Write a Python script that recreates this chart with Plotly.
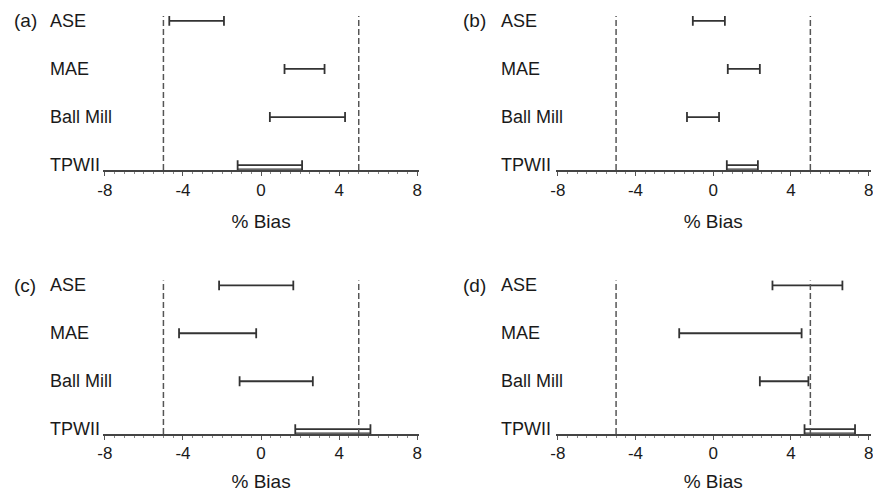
import plotly.graph_objects as go

# ---- data ----
categories = ["ASE", "MAE", "Ball Mill", "TPWII"]
cat_pos = [3, 2, 1, 0]
panel_labels = ["(a)", "(b)", "(c)", "(d)"]

low_a = [-4.7, 1.2, 0.45, -1.2]
high_a = [-1.9, 3.25, 4.3, 2.1]
low_b = [-1.05, 0.75, -1.35, 0.7]
high_b = [0.6, 2.4, 0.3, 2.3]
low_c = [-2.15, -4.2, -1.1, 1.75]
high_c = [1.65, -0.25, 2.65, 5.6]
low_d = [3.05, -1.75, 2.4, 4.7]
high_d = [6.65, 4.55, 4.9, 7.3]

limits = [-5, 5]
tick_vals = [-8, -4, 0, 4, 8]
tick_text = ["-8", "-4", "0", "4", "8"]
x_title = "% Bias"

panels = [(low_a, high_a), (low_b, high_b), (low_c, high_c), (low_d, high_d)]

FONT = "Liberation Sans, Arial, sans-serif"
LINE = "#333333"
TXT = "#1a1a1a"

# page body has an 8px margin; work in reference-pixel coordinates
OFF = 8
W, H = 881 - OFF, 492 - OFF
ANN_SHIFT = 7  # annotation text renders slightly right of its anchor


def px_x(p):
    return (p - OFF) / W


def px_y(p):
    return 1 - (p - OFF) / H


col_px = [(97.8, 417.5), (555.5, 873.5)]
row_px = [(16, 170), (280.5, 434)]
xdoms = [[px_x(a), px_x(b)] for a, b in (col_px[0], col_px[1], col_px[0], col_px[1])]
ydoms = [[px_y(b), px_y(a)] for a, b in (row_px[0], row_px[0], row_px[1], row_px[1])]
label_x_px = [49, 505, 49, 505]
letter_x_px = [13, 467, 13, 467]
tick_standoff = [0, 0, -1, -1]
title_standoff = [16, 16, 13, 13]

fig = go.Figure()
layout = dict(
    width=W, height=H,
    margin=dict(l=0, r=0, t=0, b=0),
    paper_bgcolor="white", plot_bgcolor="white",
    showlegend=False,
    font=dict(family=FONT, size=17, color=TXT),
)
annotations = []
shapes = []

for i, (lo, hi) in enumerate(panels):
    n = "" if i == 0 else str(i + 1)
    xa, ya = "x" + n, "y" + n
    center = [(a + b) / 2 for a, b in zip(lo, hi)]
    half = [(b - a) / 2 for a, b in zip(lo, hi)]
    # main interval bars
    fig.add_trace(go.Scatter(
        x=center, y=cat_pos, mode="markers", xaxis=xa, yaxis=ya,
        marker=dict(size=1, color="rgba(0,0,0,0)"),
        error_x=dict(type="data", array=half, symmetric=True, width=5,
                     thickness=1.8, color=LINE),
        hoverinfo="skip"))
    # second (lower) line for the TPWII interval box
    fig.add_trace(go.Scatter(
        x=[center[3]], y=[cat_pos[3] - 0.08], mode="markers", xaxis=xa, yaxis=ya,
        marker=dict(size=1, color="rgba(0,0,0,0)"),
        error_x=dict(type="data", array=[half[3]], symmetric=True, width=0,
                     thickness=1.3, color=LINE),
        hoverinfo="skip"))
    layout["xaxis" + n] = dict(
        domain=xdoms[i], anchor=ya, range=[-8.1, 8.1],
        tickvals=tick_vals, ticktext=tick_text,
        ticks="outside", ticklen=4, tickwidth=1, tickcolor="#555",
        minor=dict(dtick=0.5, tick0=-8, ticks="outside", ticklen=2, tickcolor="#888"),
        showline=True, linecolor="#444", linewidth=1.5,
        showgrid=False, zeroline=False,
        ticklabeloverflow="allow",
        ticklabelstandoff=tick_standoff[i],
        tickfont=dict(size=17, family=FONT, color=TXT),
        title=dict(text=x_title, font=dict(size=19, family=FONT, color=TXT),
                   standoff=title_standoff[i]),
    )
    layout["yaxis" + n] = dict(
        domain=ydoms[i], anchor=xa, range=[-0.1, 3.1],
        visible=False, showgrid=False, zeroline=False,
    )
    for lim in limits:
        shapes.append(dict(type="line", xref=xa, yref=ya + " domain",
                           x0=lim, x1=lim, y0=0, y1=1,
                           line=dict(color="#555", width=1.5, dash="6px,3px")))
    for c, p in zip(categories, cat_pos):
        annotations.append(dict(text=c, xref="paper", yref=ya,
                                x=px_x(label_x_px[i] - ANN_SHIFT), y=p,
                                xanchor="left", yanchor="middle",
                                showarrow=False, font=dict(size=18, family=FONT, color=TXT)))
    annotations.append(dict(text=panel_labels[i], xref="paper", yref=ya,
                            x=px_x(letter_x_px[i] - ANN_SHIFT), y=cat_pos[0],
                            xanchor="left", yanchor="middle",
                            showarrow=False, font=dict(size=19, family=FONT, color=TXT)))

layout["annotations"] = annotations
layout["shapes"] = shapes
fig.update_layout(**layout)
fig.write_html("out.html")
